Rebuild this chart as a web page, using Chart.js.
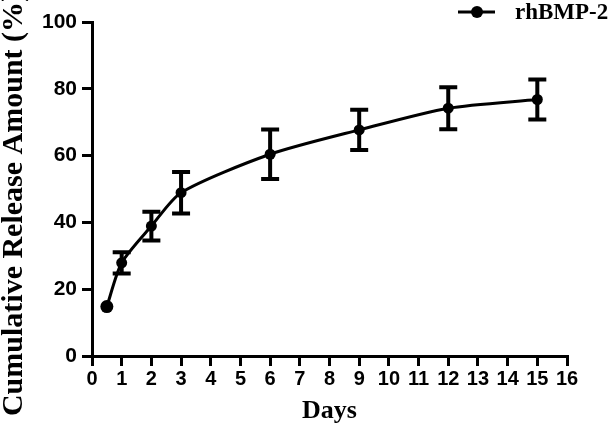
<!DOCTYPE html>
<html>
<head>
<meta charset="utf-8">
<script src="https://cdn.jsdelivr.net/npm/chart.js@4/dist/chart.umd.min.js"></script>
<style>
  html, body { margin: 0; padding: 0; background: #fff; }
  #wrap { width: 614px; height: 436px; }
</style>
</head>
<body>
<div id="wrap"><canvas id="c" width="614" height="436"></canvas></div>
<script>
// ---- data ----
const seriesLabel = 'rhBMP-2';
const days = [0.5, 1, 2, 3, 6, 9, 12, 15];
const release = [14.8, 27.9, 38.9, 48.9, 60.4, 67.7, 74.2, 76.8];
const errorSD = [0, 3.2, 4.3, 6.2, 7.4, 6.0, 6.3, 6.0];
const xTitle = 'Days';
const yTitle = 'Cumulative Release Amount (%)';
const xRange = [0, 16];
const yRange = [0, 100];

const errorBars = {
  id: 'errorBars',
  afterDatasetsDraw(chart) {
    const xs = chart.scales.x, ys = chart.scales.y, ctx = chart.ctx;
    ctx.save();
    ctx.strokeStyle = '#000';
    ctx.lineWidth = 4;
    ctx.lineCap = 'butt';
    days.forEach((d, i) => {
      if (!errorSD[i]) return;
      const x = xs.getPixelForValue(d);
      const yt = ys.getPixelForValue(release[i] + errorSD[i]);
      const yb = ys.getPixelForValue(release[i] - errorSD[i]);
      ctx.beginPath();
      ctx.moveTo(x, yt); ctx.lineTo(x, yb);
      ctx.moveTo(x - 9, yt); ctx.lineTo(x + 9, yt);
      ctx.moveTo(x - 9, yb); ctx.lineTo(x + 9, yb);
      ctx.stroke();
    });
    ctx.restore();
  }
};

const extras = {
  id: 'extras',
  afterDraw(chart) {
    const ctx = chart.ctx;
    ctx.save();
    // y title
    ctx.fillStyle = '#000';
    ctx.font = 'bold 30px "Liberation Serif"';
    ctx.textAlign = 'center';
    ctx.textBaseline = 'alphabetic';
    ctx.translate(22, 204);
    ctx.rotate(-Math.PI / 2);
    ctx.fillText(yTitle, 0, 0);
    ctx.restore();
    // legend
    ctx.save();
    ctx.strokeStyle = '#000';
    ctx.lineWidth = 3;
    ctx.beginPath();
    ctx.moveTo(458, 12); ctx.lineTo(495, 12);
    ctx.stroke();
    ctx.beginPath();
    ctx.arc(477, 12, 6, 0, Math.PI * 2);
    ctx.fillStyle = '#000';
    ctx.fill();
    ctx.font = 'bold 23px "Liberation Serif"';
    ctx.textAlign = 'left';
    ctx.textBaseline = 'alphabetic';
    ctx.fillText(chart.data.datasets[0].label, 515, 19);
    ctx.restore();
  }
};

new Chart(document.getElementById('c'), {
  type: 'line',
  data: {
    datasets: [{
      label: seriesLabel,
      data: days.map((d, i) => ({ x: d, y: release[i] })),
      borderColor: '#000',
      backgroundColor: '#000',
      borderWidth: 3,
      pointRadius: days.map((d, i) => i === 0 ? 6.5 : 5.5),
      pointBackgroundColor: '#000',
      pointBorderWidth: 0,
      tension: 0.25,
      clip: false
    }]
  },
  options: {
    responsive: false,
    animation: false,
    devicePixelRatio: 1,
    layout: { padding: { left: 0, right: 47, top: 22, bottom: 0 } },
    plugins: { legend: { display: false }, tooltip: { enabled: false } },
    scales: {
      x: {
        type: 'linear', min: xRange[0], max: xRange[1],
        ticks: { stepSize: 1, color: '#000', font: { family: 'Liberation Sans', weight: 'bold', size: 20 }, padding: 1, maxRotation: 0, autoSkip: false },
        grid: { display: true, drawOnChartArea: false, drawTicks: true, tickLength: 10, lineWidth: 3, tickWidth: 3, tickColor: '#000', color: '#000' },
        border: { display: true, width: 3, color: '#000' },
        title: { display: true, text: xTitle, color: '#000', font: { family: 'Liberation Serif', weight: 'bold', size: 26 }, padding: { top: 4, bottom: 9 } },
        afterFit(s) { s.height = 80; }
      },
      y: {
        min: yRange[0], max: yRange[1],
        ticks: { stepSize: 20, color: '#000', font: { family: 'Liberation Sans', weight: 'bold', size: 21 }, padding: 5 },
        grid: { display: true, drawOnChartArea: false, drawTicks: true, tickLength: 10, lineWidth: 3, tickWidth: 3, tickColor: '#000', color: '#000' },
        border: { display: true, width: 3, color: '#000' },
        afterFit(s) { s.width = 92; }
      }
    }
  },
  plugins: [errorBars, extras]
});
</script>
</body>
</html>
